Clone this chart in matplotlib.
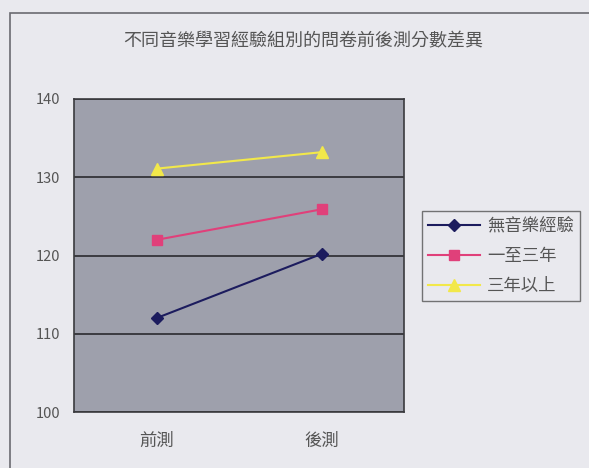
import matplotlib
matplotlib.use('Agg')
import matplotlib.pyplot as plt
from matplotlib.patches import Rectangle

plt.rcParams['font.family'] = ['Noto Sans CJK TC', 'DejaVu Sans']

# data
categories = ['前測', '後測']
series_names = ['無音樂經驗', '一至三年', '三年以上']
no_music = [112, 120.2]
one_to_three = [122, 125.9]
over_three = [131.1, 133.2]
yticks = [100, 110, 120, 130, 140]
title = '不同音樂學習經驗組別的問卷前後測分數差異'

fig = plt.figure(figsize=(5.89, 4.68), dpi=100)
fig.patch.set_facecolor('#e9e9ee')

# outer chart frame
fig.patches.append(Rectangle((10/589, -0.05), 1.0, 1 - 13/468 + 0.05,
                             transform=fig.transFigure, fill=False,
                             edgecolor='#6a6a70', linewidth=1.2))

ax = fig.add_axes([74/589, 1 - 412/468, 330/589, 313/468])
ax.set_facecolor('#9ea0ac')

x = range(len(categories))
ax.plot(x, no_music, color='#1c1c5e', marker='D', markersize=6, linewidth=1.5, label=series_names[0])
ax.plot(x, one_to_three, color='#e0407a', marker='s', markersize=7, linewidth=1.5, label=series_names[1])
ax.plot(x, over_three, color='#f2e84a', marker='^', markersize=8, linewidth=1.5, label=series_names[2])

ax.set_xlim(-0.5, 1.5)
ax.set_ylim(100, 140)
ax.set_yticks(yticks)
ax.set_xticks(list(x))
ax.set_xticklabels(categories)
ax.yaxis.grid(True, color='#2a2a2e', linewidth=1.2)
ax.set_axisbelow(True)
ax.tick_params(length=0, colors='#555555')
ax.tick_params(axis='y', labelsize=10.5, pad=10)
ax.tick_params(axis='x', labelsize=12.5, pad=14)
for s in ax.spines.values():
    s.set_color('#3a3a3e')
    s.set_linewidth(1.2)

fig.text(303/589, 1 - 41/468, title, ha='center', va='center', fontsize=13, color='#555555')

leg = fig.legend(loc='center left', bbox_to_anchor=(422/589, 1 - 256/468),
                 frameon=True, fontsize=12.5, handlelength=3.0, borderpad=0.36,
                 labelspacing=0.67, handletextpad=0.4, borderaxespad=0)
leg.get_frame().set_facecolor('#e9e9ee')
leg.get_frame().set_edgecolor('#555555')
leg.get_frame().set_boxstyle('square', pad=0)
for t in leg.get_texts():
    t.set_color('#555555')

fig.savefig('out.png', dpi=100, facecolor=fig.get_facecolor())
